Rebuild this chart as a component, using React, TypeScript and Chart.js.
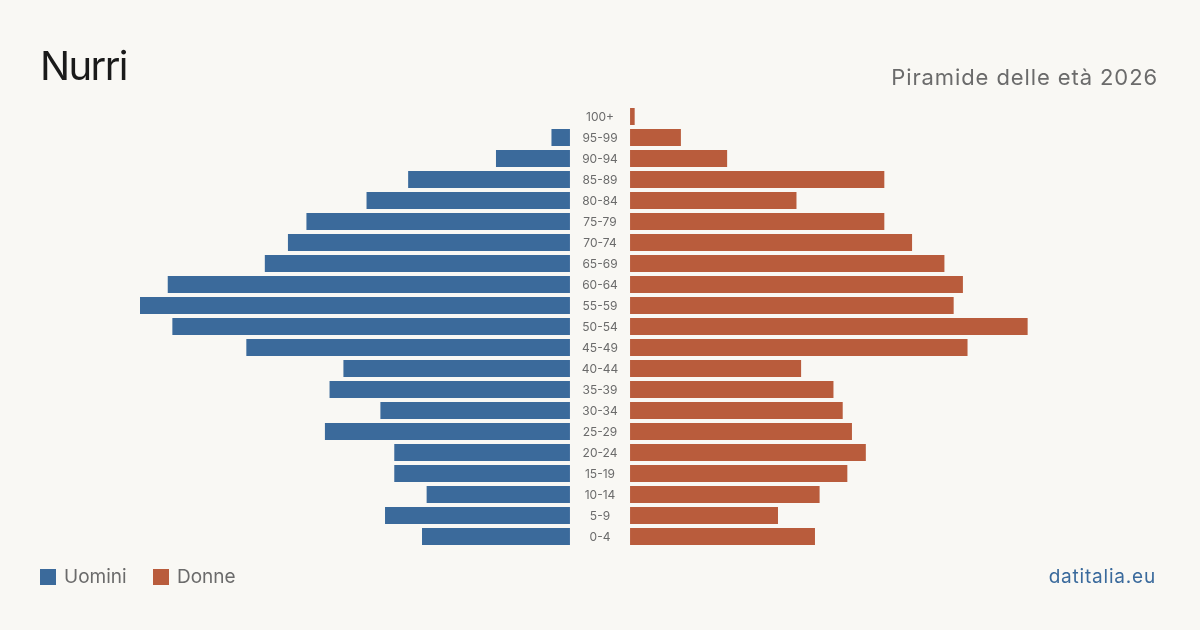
import React, { useEffect, useRef } from "react";
import { Chart, registerables } from "chart.js";

Chart.register(...registerables);

// Age groups, youngest first (the y axis is reversed so 100+ sits at the top)
const ageGroups = [
  "0-4", "5-9", "10-14", "15-19", "20-24", "25-29", "30-34", "35-39", "40-44", "45-49",
  "50-54", "55-59", "60-64", "65-69", "70-74", "75-79", "80-84", "85-89", "90-94", "95-99", "100+",
];

// Residents per age group
const men = [32, 40, 31, 38, 38, 53, 41, 52, 49, 70, 86, 93, 87, 66, 61, 57, 44, 35, 16, 4, 0];
const women = [40, 32, 41, 47, 51, 48, 46, 44, 37, 73, 86, 70, 72, 68, 61, 55, 36, 55, 21, 11, 1];

const menLabel = "Uomini";
const womenLabel = "Donne";

const BG = "#f9f8f4";
const BLUE = "#3b6a9b";
const RED = "#b95c3c";
const GREY = "#6b6b6b";
const FONT = "Inter, 'Noto Sans', sans-serif";

// Half-width of the central label column, in data units
const GAP = 6.5;

const centerLabels = {
  id: "centerLabels",
  afterDatasetsDraw(chart: any) {
    const { ctx, scales } = chart;
    const x = scales.x.getPixelForValue(0);
    ctx.save();
    ctx.font = `12px ${FONT}`;
    ctx.fillStyle = GREY;
    ctx.textAlign = "center";
    ctx.textBaseline = "middle";
    ageGroups.forEach((g, i) => {
      ctx.fillText(g, x, scales.y.getPixelForValue(i) + 0.5);
    });
    ctx.restore();
  },
};

export default function App() {
  const ref = useRef<HTMLCanvasElement>(null);

  useEffect(() => {
    document.body.style.margin = "0";
    document.body.style.background = BG;
    const maxVal = Math.max(...men, ...women);
    const chart = new Chart(ref.current!, {
      type: "bar",
      data: {
        labels: ageGroups,
        datasets: [
          {
            label: menLabel,
            data: men.map((v) => [-(GAP + v), -GAP]) as any,
            backgroundColor: BLUE,
            grouped: false,
            borderWidth: 0,
            barPercentage: 0.81,
            categoryPercentage: 1,
          },
          {
            label: womenLabel,
            data: women.map((v) => [GAP, GAP + v]) as any,
            backgroundColor: RED,
            grouped: false,
            borderWidth: 0,
            barPercentage: 0.81,
            categoryPercentage: 1,
          },
        ],
      },
      options: {
        indexAxis: "y",
        responsive: false,
        animation: false,
        layout: { padding: { left: 140, right: 140, top: 106, bottom: 83 } },
        plugins: { legend: { display: false }, tooltip: { enabled: false } },
        scales: {
          x: { display: false, min: -(maxVal + GAP), max: maxVal + GAP },
          y: { display: false, reverse: true, offset: true },
        },
      },
      plugins: [centerLabels],
    });
    return () => chart.destroy();
  }, []);

  const legendItem = (color: string, text: string, left: number) => (
    <div style={{ position: "absolute", left, top: 567, display: "flex", alignItems: "center" }}>
      <div style={{ width: 16, height: 16, background: color, marginRight: 8, marginTop: 1 }} />
      <span style={{ fontSize: 19, lineHeight: "19px", color: GREY }}>{text}</span>
    </div>
  );

  return (
    <div
      style={{
        position: "absolute",
        left: 0,
        top: 0,
        width: 1200,
        height: 630,
        background: BG,
        fontFamily: FONT,
        overflow: "hidden",
      }}
    >
      <canvas ref={ref} width={1200} height={630} style={{ position: "absolute", left: 0, top: 0 }} />
      <div
        style={{
          position: "absolute",
          left: 40,
          top: 46,
          fontSize: 40,
          lineHeight: "40px",
          letterSpacing: "-1.6px",
          color: "#1a1a1a",
        }}
      >
        Nurri
      </div>
      <div
        style={{
          position: "absolute",
          right: 42,
          top: 66,
          fontSize: 22,
          lineHeight: "22px",
          letterSpacing: "0.9px",
          color: GREY,
        }}
      >
        Piramide delle età 2026
      </div>
      {legendItem(BLUE, menLabel, 40)}
      {legendItem(RED, womenLabel, 153)}
      <div
        style={{
          position: "absolute",
          right: 44,
          top: 567,
          fontSize: 19,
          lineHeight: "19px",
          letterSpacing: "0.8px",
          color: "#3a6a9c",
        }}
      >
        datitalia.eu
      </div>
    </div>
  );
}
